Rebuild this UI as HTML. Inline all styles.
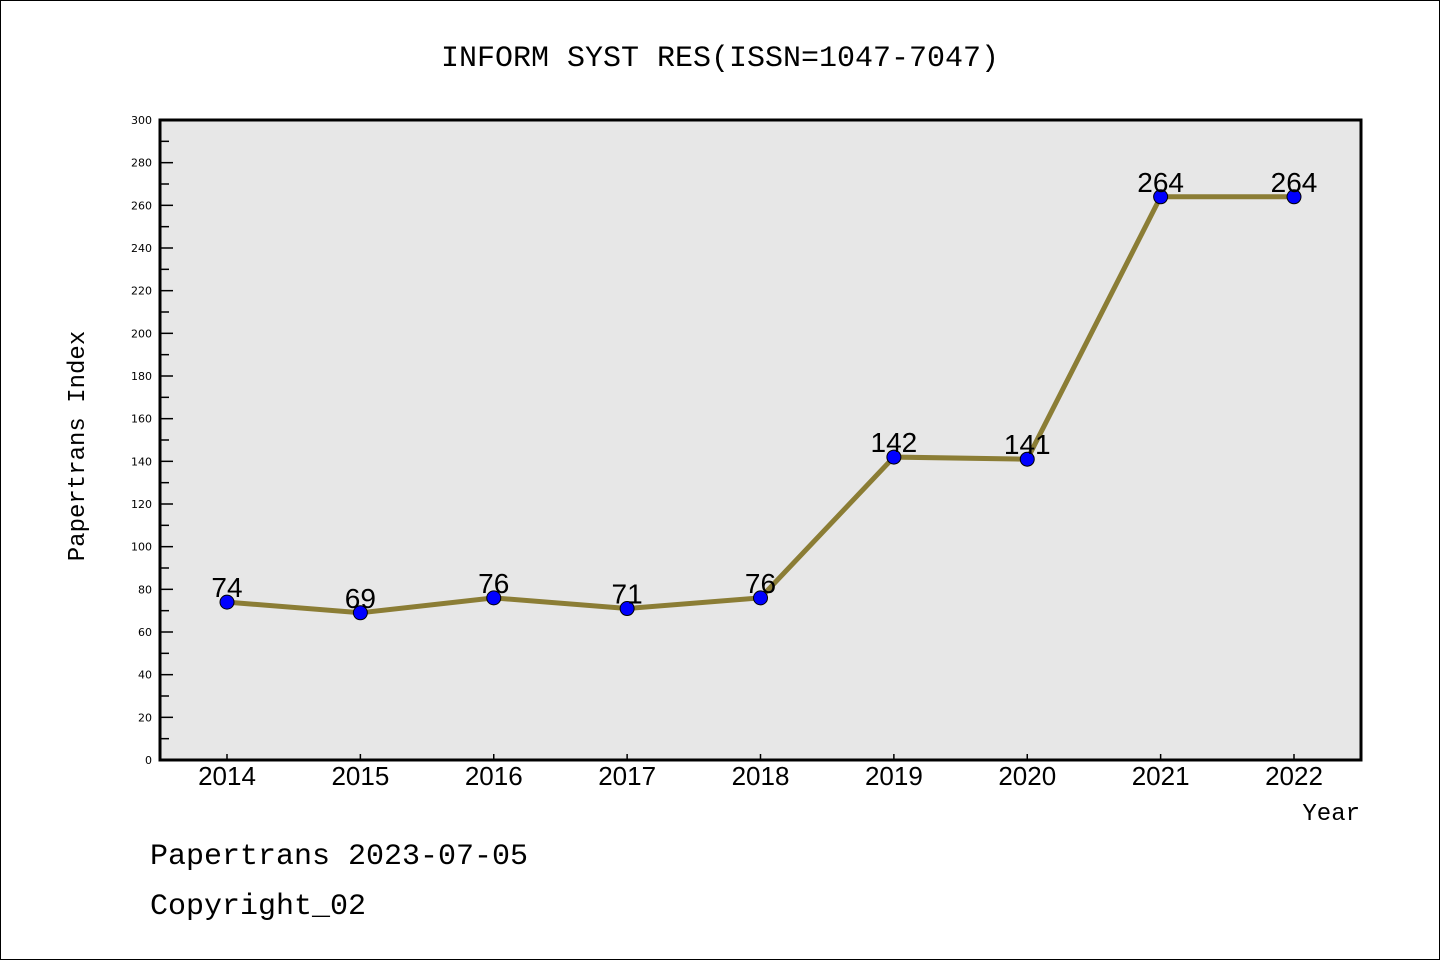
<!DOCTYPE html>
<html><head><meta charset="utf-8"><style>
html,body{margin:0;padding:0;background:#fff;}
svg{display:block;font-family:"Liberation Mono",monospace;}
.sans{font-family:"DejaVu Sans","Liberation Sans",sans-serif;}
.lsans{font-family:"Liberation Sans",sans-serif;}
</style></head><body>
<svg id="chart" width="1440" height="960">
<rect x="0.5" y="0.5" width="1439" height="959" fill="#fff" stroke="#000"/>
<text x="720" y="66" font-size="30" text-anchor="middle">INFORM SYST RES(ISSN=1047-7047)</text>
<rect x="160" y="120" width="1201" height="640" fill="#e7e7e7"/>
<g id="yaxis"></g>
<g id="xaxis"></g>
<g id="series"></g>
<rect x="160" y="120" width="1201" height="640" fill="none" stroke="#000" stroke-width="3"/>
<text transform="translate(84,446) rotate(-90)" font-size="24" text-anchor="middle">Papertrans Index</text>
<text x="1360" y="820" font-size="24" text-anchor="end">Year</text>
<text x="150" y="864" font-size="30">Papertrans 2023-07-05</text>
<text x="150" y="914" font-size="30">Copyright_02</text>
</svg>
<script>
const categories = ["2014","2015","2016","2017","2018","2019","2020","2021","2022"];
const values = [74,69,76,71,76,142,141,264,264];
const yTicks = [0,20,40,60,80,100,120,140,160,180,200,220,240,260,280,300];
const NS="http://www.w3.org/2000/svg";
const x0=160,x1=1361,yTop=120,yBot=760,yMax=300;
const xs=i=>227+i*(1294-227)/(categories.length-1);
const ys=v=>yBot-v/yMax*(yBot-yTop);
function mk(tag,attrs,parent,txt){const e=document.createElementNS(NS,tag);for(const k in attrs)e.setAttribute(k,attrs[k]);if(txt!==undefined)e.textContent=txt;parent.appendChild(e);return e;}
const ya=document.getElementById('yaxis'),xa=document.getElementById('xaxis'),sg=document.getElementById('series');
yTicks.forEach((t,i)=>{
  const y=ys(t);
  const l=mk('line',{x1:x0,x2:x0+13,y1:y,y2:y,stroke:'#000','stroke-width':1.5},ya);
  
  
  const tx=mk('text',{x:152,y:y+4,'font-size':11,'text-anchor':'end','class':'sans'},ya,t);
  
  
  if(i<yTicks.length-1){
    const ym=ys((t+yTicks[i+1])/2);
    const m=mk('line',{x1:x0,x2:x0+9,y1:ym,y2:ym,stroke:'#000','stroke-width':1.5},ya);
    
    
  }
});
categories.forEach((c,i)=>{
  const x=xs(i);
  const l=mk('line',{x1:x,x2:x,y1:yBot,y2:yBot-6,stroke:'#000','stroke-width':1.5},xa);
  
  
  const t=mk('text',{x:x,y:785,'font-size':26,'text-anchor':'middle','class':'lsans'},xa,c);
  
  
});
const pl=mk('polyline',{points:values.map((v,i)=>xs(i)+','+ys(v)).join(' '),fill:'none',stroke:'#8b7d35','stroke-width':5},sg);


values.forEach((v,i)=>{
  const c=mk('circle',{cx:xs(i),cy:ys(v),r:7,fill:'#0000ff',stroke:'#000','stroke-width':1},sg);
  
  
  const t=mk('text',{x:xs(i),y:ys(v)-5,'font-size':28,'text-anchor':'middle','class':'lsans'},sg,v);
  
  
});
</script>
</body></html>
